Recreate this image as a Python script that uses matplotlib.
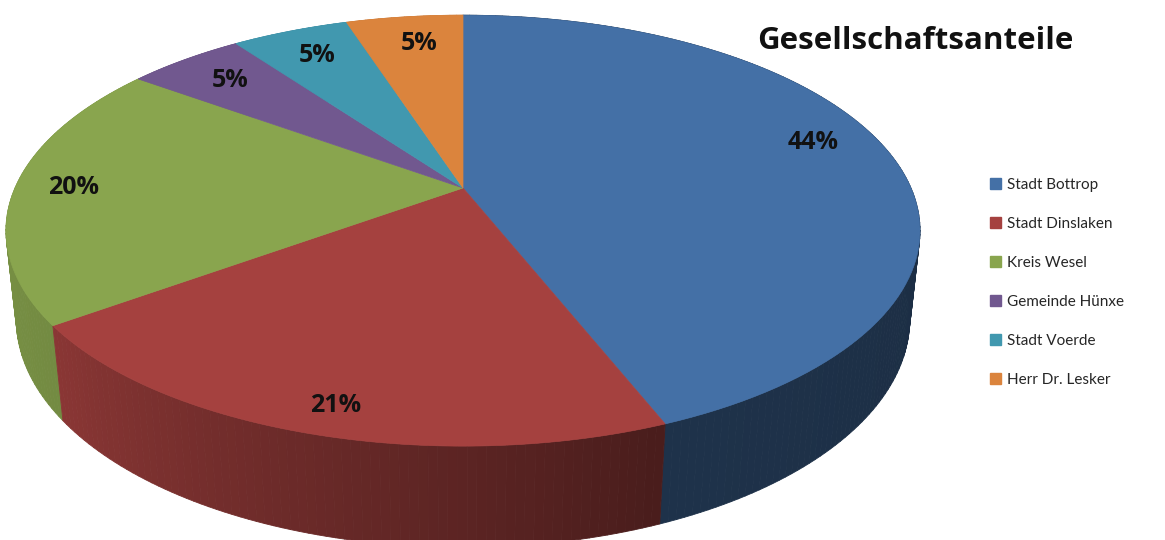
import numpy as np
import matplotlib.pyplot as plt
from matplotlib.patches import Polygon, Patch
from matplotlib.collections import PolyCollection

# Daten
names = ['Stadt Bottrop', 'Stadt Dinslaken', 'Kreis Wesel',
         'Gemeinde Hünxe', 'Stadt Voerde', 'Herr Dr. Lesker']
shares = [44, 21, 20, 5, 5, 5]
labels = ['44%', '21%', '20%', '5%', '5%', '5%']
colors = ['#4470A6', '#A5413F', '#89A54E', '#71588F', '#4198AF', '#DB843D']

# Position der Beschriftungen (Radius, Winkelverschiebung in Grad)
label_r = [0.85, 0.90, 0.87, 0.82, 0.82, 0.82]
label_shift = [-5, -1, 0, 0, 0, 1]

plt.rcParams['font.family'] = ['Lato', 'DejaVu Sans']

# 3D-Projektion (Kippwinkel + Perspektive)
TILT = np.arcsin(0.455)
DIST = 4.5
HEIGHT = 0.22
SX, SY = 448, 455
CX, CY = 463, 188


def project(x, z, h):
    c, s = np.cos(TILT), np.sin(TILT)
    v = h * c - z * s
    w = z * c + h * s
    f = DIST / (DIST - w)
    return CX + SX * x * f, CY - SY * v * f, w


def rim(phi, h):
    # phi im Uhrzeigersinn von oben (12 Uhr), Grad
    a = np.radians(phi)
    return project(np.sin(a), -np.cos(a), h)


def side_shade(phi):
    return np.interp(phi % 360, [0, 90, 160, 234, 270, 360],
                     [0.40, 0.40, 0.45, 0.84, 0.89, 0.89])


def darker(color, k):
    rgb = np.array(plt.matplotlib.colors.to_rgb(color))
    return tuple(np.clip(rgb * k, 0, 1))


fig = plt.figure(figsize=(11.65, 5.4), dpi=100)
ax = fig.add_axes([0, 0, 1, 1])
ax.set_xlim(0, 1165)
ax.set_ylim(540, 0)
ax.axis('off')

bounds = np.concatenate([[0], np.cumsum(shares)]) / sum(shares) * 360

# Seitenflächen in Streifen, von hinten nach vorne
strips = []
for i in range(len(shares)):
    p0, p1 = bounds[i], bounds[i + 1]
    n = max(int(p1 - p0), 2)
    edges = np.linspace(p0, p1, n + 1)
    for a, b in zip(edges[:-1], edges[1:]):
        xa, ya, wa = rim(a, 0)
        xb, yb, wb = rim(b, 0)
        xc, yc, _ = rim(b, -HEIGHT)
        xd, yd, _ = rim(a, -HEIGHT)
        col = darker(colors[i], side_shade((a + b) / 2))
        strips.append(((wa + wb) / 2, [(xa, ya), (xb, yb), (xc, yc), (xd, yd)], col))
strips.sort(key=lambda s: s[0])
pc = PolyCollection([s[1] for s in strips], facecolors=[s[2] for s in strips],
                    edgecolors=[s[2] for s in strips], linewidths=0.6, zorder=1)
ax.add_collection(pc)

# Deckflächen
for i in range(len(shares)):
    phis = np.linspace(bounds[i], bounds[i + 1], 100)
    px, py, _ = rim(phis, 0)
    cx, cy, _ = project(0, 0, 0)
    pts = [(cx, cy)] + list(zip(px, py))
    ax.add_patch(Polygon(pts, closed=True, facecolor=colors[i],
                         edgecolor=colors[i], linewidth=0.5, zorder=2))

# Prozentbeschriftungen
for i in range(len(shares)):
    mid = np.radians((bounds[i] + bounds[i + 1]) / 2 + label_shift[i])
    lx, ly, _ = project(label_r[i] * np.sin(mid), -label_r[i] * np.cos(mid), 0)
    ax.text(lx, ly, labels[i], ha='center', va='center', fontsize=18,
            fontweight='bold', color='#111111', zorder=3, family='Open Sans')

ax.text(915, 41, 'Gesellschaftsanteile', ha='center', va='center',
        fontsize=22.5, fontweight='bold', color='#111111', family='Open Sans')

handles = [Patch(facecolor=c, edgecolor=c) for c in colors]
ax.legend(handles, names, loc='upper left', bbox_to_anchor=(990 / 1165, 1 - 178 / 540),
          frameon=False, fontsize=11, handlelength=0.75, handleheight=0.75,
          handletextpad=0.35, labelspacing=1.63, borderpad=0, borderaxespad=0,
          labelcolor='#262626')

fig.savefig('out.png', dpi=100)
